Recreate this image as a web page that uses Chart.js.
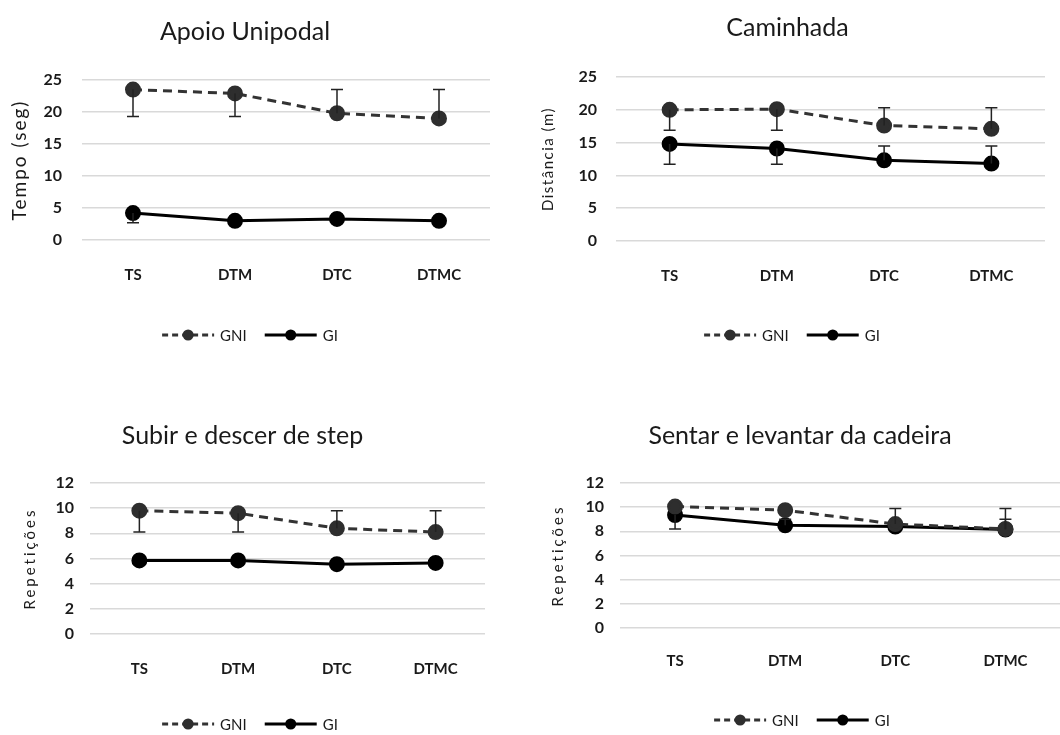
<!DOCTYPE html>
<html>
<head>
<meta charset="utf-8">
<script src="https://cdn.jsdelivr.net/npm/chart.js@4.4.1/dist/chart.umd.min.js"></script>
<style>
    body { margin: 0; background: #fff; width: 1060px; height: 735px; overflow: hidden; position: relative; }
    .box { position: absolute; }
</style>
</head>
<body>
<div class="box" style="left:0;top:0;width:530px;height:367px"><canvas id="apoio"></canvas></div>
<div class="box" style="left:530px;top:0;width:530px;height:367px"><canvas id="caminhada"></canvas></div>
<div class="box" style="left:0;top:367px;width:530px;height:368px"><canvas id="step"></canvas></div>
<div class="box" style="left:530px;top:367px;width:540px;height:368px"><canvas id="cadeira"></canvas></div>
<script>
const categories = ['TS', 'DTM', 'DTC', 'DTMC']; /** categorias do eixo x */
const seriesNames = ['GNI', 'GI']; /** nomes da legenda */

/** Apoio Unipodal (seg) */
const apoioTicks = [0, 5, 10, 15, 20, 25];
const apoioGNI = [23.5, 22.9, 19.8, 19.0];
const apoioGNIErr = [19.3, 19.3, 23.5, 23.5]; /** ponta da barra de erro */
const apoioGI = [4.2, 3.0, 3.3, 3.0];
const apoioGIErr = [2.7, null, null, null];

/** Caminhada (m) */
const caminhadaTicks = [0, 5, 10, 15, 20, 25];
const caminhadaGNI = [20.0, 20.1, 17.6, 17.1];
const caminhadaGNIErr = [16.9, 16.9, 20.3, 20.3];
const caminhadaGI = [14.8, 14.1, 12.3, 11.8];
const caminhadaGIErr = [11.7, 11.7, 14.5, 14.5];

/** Subir e descer de step (repetições) */
const stepTicks = [0, 2, 4, 6, 8, 10, 12];
const stepGNI = [9.8, 9.6, 8.4, 8.1];
const stepGNIErr = [8.1, 8.1, 9.8, 9.8];
const stepGI = [5.85, 5.85, 5.55, 5.65];
const stepGIErr = [null, null, null, null];

/** Sentar e levantar da cadeira (repetições) */
const cadeiraTicks = [0, 2, 4, 6, 8, 10, 12];
const cadeiraGNI = [10.05, 9.75, 8.6, 8.2];
const cadeiraGNIErr = [null, null, 9.9, 9.9];
const cadeiraGI = [9.35, 8.5, 8.4, 8.15];
const cadeiraGIErr = [8.2, 9.0, null, 9.0];

const fontFamily = "Lato, 'Open Sans', sans-serif";
const textColor = '#1a1a1a';

/** barras de erro desenhadas pela escala y */
const errorBarPlugin = {
    id: 'errorBars',
    afterDatasetsDraw(chart) {
        const ctx = chart.ctx;
        const yScale = chart.scales.y;
        chart.data.datasets.forEach((ds, i) => {
            const meta = chart.getDatasetMeta(i);
            ds.errorEnds.forEach((end, j) => {
                if (end === null) return;
                const x = meta.data[j].x;
                const y0 = yScale.getPixelForValue(ds.data[j]);
                const y1 = yScale.getPixelForValue(end);
                ctx.save();
                ctx.strokeStyle = '#222';
                ctx.lineWidth = 1.5;
                ctx.beginPath();
                ctx.moveTo(x, y0);
                ctx.lineTo(x, y1);
                ctx.moveTo(x - 6, y1);
                ctx.lineTo(x + 6, y1);
                ctx.stroke();
                ctx.restore();
            });
        });
    }
};

/** título do eixo y com espaçamento entre letras */
const yTitlePlugin = {
    id: 'yTitle',
    afterDraw(chart, args, opts) {
        const ctx = chart.ctx;
        const area = chart.chartArea;
        ctx.save();
        ctx.font = `${opts.size}px ${fontFamily}`;
        ctx.letterSpacing = opts.spacing + 'px';
        ctx.fillStyle = textColor;
        ctx.textAlign = 'center';
        ctx.textBaseline = 'middle';
        ctx.translate(opts.x, (area.top + area.bottom) / 2 + opts.dy);
        ctx.rotate(-Math.PI / 2);
        ctx.fillText(opts.text, 0, 0);
        ctx.restore();
    }
};

/** legenda com linha e marcador, como no Excel */
const lineLegendPlugin = {
    id: 'lineLegend',
    afterDraw(chart, args, opts) {
        const ctx = chart.ctx;
        ctx.save();
        ctx.font = `15px ${fontFamily}`;
        const segW = 52;
        const items = chart.data.datasets.map(ds => ({ ds, w: segW + 6 + ctx.measureText(ds.label).width }));
        const gap = 18;
        const total = items.reduce((s, it) => s + it.w, 0) + gap * (items.length - 1);
        let x = opts.centerX - total / 2;
        const y = opts.y;
        items.forEach(it => {
            ctx.strokeStyle = it.ds.borderColor;
            ctx.lineWidth = 3;
            ctx.setLineDash(it.ds.borderDash ? [6, 4] : []);
            ctx.beginPath();
            ctx.moveTo(x, y);
            ctx.lineTo(x + segW, y);
            ctx.stroke();
            ctx.setLineDash([]);
            ctx.fillStyle = it.ds.pointBackgroundColor;
            ctx.beginPath();
            ctx.arc(x + segW / 2, y, 5.5, 0, Math.PI * 2);
            ctx.fill();
            ctx.fillStyle = textColor;
            ctx.textBaseline = 'middle';
            ctx.textAlign = 'left';
            ctx.fillText(it.ds.label, x + segW + 6, y + 1);
            x += it.w + gap;
        });
        ctx.restore();
    }
};

/** cria um dos quatro gráficos */
function makeChart(id, title, yTitle, ticks, gni, gniErr, gi, giErr, lay) {
    const ctx = document.getElementById(id).getContext('2d');
    return new Chart(ctx, {
        type: 'line',
        data: {
            labels: categories,
            datasets: [{
                label: seriesNames[0],
                data: gni,
                errorEnds: gniErr,
                borderColor: '#333',
                borderDash: [9, 6],
                borderWidth: 3,
                pointRadius: 6.5,
                pointBackgroundColor: '#2e2e2e',
                pointBorderColor: '#2e2e2e',
                tension: 0
            }, {
                label: seriesNames[1],
                data: gi,
                errorEnds: giErr,
                borderColor: '#000',
                borderWidth: 3,
                pointRadius: 6.5,
                pointBackgroundColor: '#000',
                pointBorderColor: '#000',
                tension: 0
            }]
        },
        options: {
            responsive: true,
            maintainAspectRatio: false,
            animation: false,
            layout: { padding: { left: 0, right: lay.right, top: 0, bottom: 0 } },
            plugins: {
                legend: { display: false },
                tooltip: { enabled: false },
                title: {
                    display: true,
                    text: title,
                    color: textColor,
                    font: { family: fontFamily, size: 25, weight: 'normal' },
                    padding: { top: lay.titleTop, bottom: lay.titleBottom }
                },
                lineLegend: { centerX: lay.legendX, y: lay.legendY },
                yTitle: { text: yTitle, x: lay.yTitleX, size: lay.yTitleSize, spacing: lay.yTitleSpacing, dy: 0 }
            },
            scales: {
                x: {
                    offset: true,
                    grid: { display: false, drawTicks: false },
                    border: { display: false },
                    ticks: { color: textColor, padding: lay.xPad, font: { family: fontFamily, size: 15, weight: 'bold' } },
                    afterFit(scale) { scale.height = lay.xHeight; }
                },
                y: {
                    min: ticks[0],
                    max: ticks[ticks.length - 1],
                    afterBuildTicks(scale) { scale.ticks = ticks.map(v => ({ value: v })); },
                    grid: { color: '#d9d9d9', lineWidth: 1.5, drawTicks: false },
                    border: { display: false },
                    ticks: { color: textColor, padding: lay.yPad, font: { family: fontFamily, size: 16, weight: 'bold' } },
                    afterFit(scale) { scale.width = lay.yWidth; }
                }
            }
        },
        plugins: [errorBarPlugin, yTitlePlugin, lineLegendPlugin]
    });
}

makeChart('apoio', 'Apoio Unipodal', 'Tempo (seg)', apoioTicks, apoioGNI, apoioGNIErr, apoioGI, apoioGIErr,
    { right: 40, titleTop: 17, titleBottom: 33, xHeight: 127, xPad: 26, yPad: 20, yWidth: 82, yTitleX: 20, yTitleSize: 19, yTitleSpacing: 2, legendX: 250, legendY: 335 });
makeChart('caminhada', 'Caminhada', 'Distância (m)', caminhadaTicks, caminhadaGNI, caminhadaGNIErr, caminhadaGI, caminhadaGIErr,
    { right: 15, titleTop: 13, titleBottom: 34, xHeight: 126, xPad: 26, yPad: 19, yWidth: 86, yTitleX: 18, yTitleSize: 15, yTitleSpacing: 1.5, legendX: 262, legendY: 335 });
makeChart('step', 'Subir e descer de step', 'Repetições', stepTicks, stepGNI, stepGNIErr, stepGI, stepGIErr,
    { right: 45, titleTop: 54, titleBottom: 32, xHeight: 101, xPad: 26, yPad: 16, yWidth: 90, yTitleX: 30, yTitleSize: 15, yTitleSpacing: 3, legendX: 250, legendY: 357 });
makeChart('cadeira', 'Sentar e levantar da cadeira', 'Repetições', cadeiraTicks, cadeiraGNI, cadeiraGNIErr, cadeiraGI, cadeiraGIErr,
    { right: 0, titleTop: 54, titleBottom: 32, xHeight: 107, xPad: 24, yPad: 16, yWidth: 90, yTitleX: 28, yTitleSize: 15, yTitleSpacing: 3, legendX: 272, legendY: 353 });
</script>
</body>
</html>
